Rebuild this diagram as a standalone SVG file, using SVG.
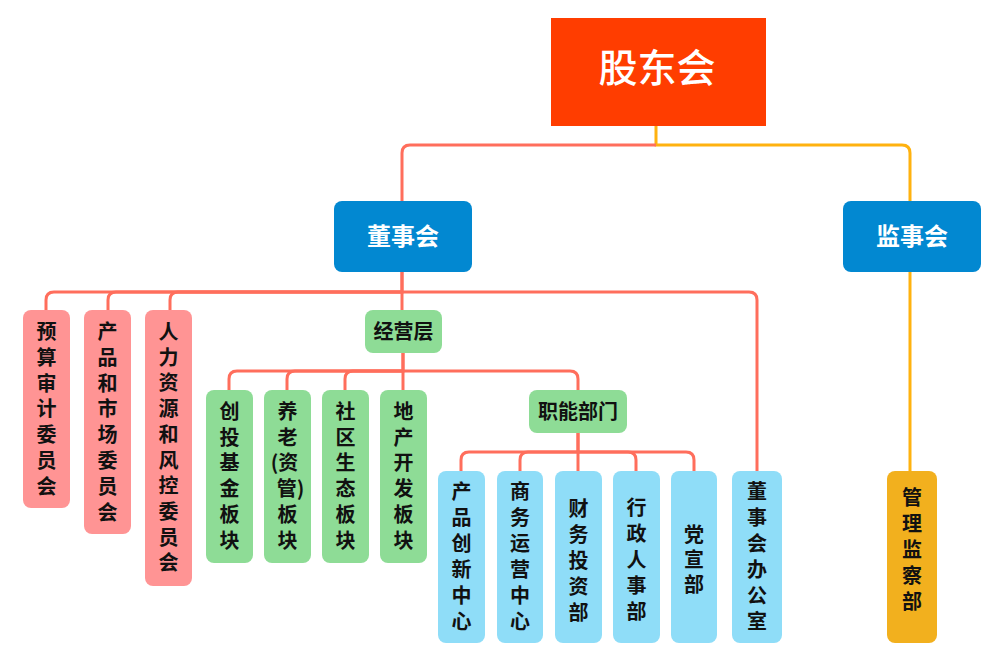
<svg xmlns="http://www.w3.org/2000/svg" width="1004" height="659" viewBox="0 0 1004 659">
<style>
.t{font-family:"Noto Sans CJK SC","Noto Sans",sans-serif;font-weight:bold;font-size:20px;fill:#111;text-anchor:middle}
.w{fill:#fff}
.red{fill:none;stroke:#FF6E5C;stroke-width:3}
.yel{fill:none;stroke:#FFB20F;stroke-width:3}
.pink{fill:#FF9494}
.green{fill:#8EDC96}
.lblue{fill:#8FDDF8}
.dblue{fill:#0288D1}
</style>
<rect width="1004" height="659" fill="#fff"/>
<g id="connectors">
<path class="yel" d="M656,126 V145 H902 Q910,145 910,153 V201"/>
<path class="red" d="M656,145 H410 Q402,145 402,153 V201"/>
<path class="yel" d="M910,272 V471" stroke="#FFA400"/>
<path class="red" d="M402,272 V292 H54 Q46,292 46,300 V310"/>
<path class="red" d="M402,292 H116 Q108,292 108,300 V310"/>
<path class="red" d="M402,292 H178 Q170,292 170,300 V310"/>
<path class="red" d="M402,272 V310"/>
<path class="red" d="M402,292 H749 Q757,292 757,300 V471"/>
<path class="red" d="M403,352 V371 H237 Q229,371 229,379 V390"/>
<path class="red" d="M403,371 H295 Q287,371 287,379 V390"/>
<path class="red" d="M403,371 H353 Q345,371 345,379 V390"/>
<path class="red" d="M403,352 V390"/>
<path class="red" d="M403,371 H570 Q578,371 578,379 V390"/>
<path class="red" d="M578,433 V452 H469 Q461,452 461,460 V471"/>
<path class="red" d="M578,452 H528 Q520,452 520,460 V471"/>
<path class="red" d="M578,433 V471"/>
<path class="red" d="M578,452 H628 Q636,452 636,460 V471"/>
<path class="red" d="M578,452 H686 Q694,452 694,460 V471"/>
</g>
<g id="gudonghui">
<rect x="551" y="18" width="215" height="108" fill="#FF3D00"/>
<text class="t w" x="657" y="82" style="font-size:39px;font-weight:500">股东会</text>
</g>
<g id="dongshihui">
<rect class="dblue" x="334" y="201" width="138" height="71" rx="8"/>
<text class="t w" x="403" y="245" style="font-size:24px">董事会</text>
</g>
<g id="jianshihui">
<rect class="dblue" x="843" y="201" width="138" height="71" rx="8"/>
<text class="t w" x="912" y="245" style="font-size:24px">监事会</text>
</g>
<g id="yusuan">
<rect class="pink" x="23" y="310" width="47" height="198" rx="8"/>
<text class="t" x="46.5" y="339"><tspan x="46.5">预</tspan><tspan x="46.5" dy="25.8">算</tspan><tspan x="46.5" dy="25.8">审</tspan><tspan x="46.5" dy="25.8">计</tspan><tspan x="46.5" dy="25.8">委</tspan><tspan x="46.5" dy="25.8">员</tspan><tspan x="46.5" dy="25.8">会</tspan></text>
</g>
<g id="chanpin">
<rect class="pink" x="84" y="310" width="47" height="224" rx="8"/>
<text class="t" x="107.5" y="339"><tspan x="107.5">产</tspan><tspan x="107.5" dy="25.8">品</tspan><tspan x="107.5" dy="25.8">和</tspan><tspan x="107.5" dy="25.8">市</tspan><tspan x="107.5" dy="25.8">场</tspan><tspan x="107.5" dy="25.8">委</tspan><tspan x="107.5" dy="25.8">员</tspan><tspan x="107.5" dy="25.8">会</tspan></text>
</g>
<g id="renli">
<rect class="pink" x="145" y="310" width="47" height="276" rx="8"/>
<text class="t" x="168.5" y="339"><tspan x="168.5">人</tspan><tspan x="168.5" dy="25.7">力</tspan><tspan x="168.5" dy="25.7">资</tspan><tspan x="168.5" dy="25.7">源</tspan><tspan x="168.5" dy="25.7">和</tspan><tspan x="168.5" dy="25.7">风</tspan><tspan x="168.5" dy="25.7">控</tspan><tspan x="168.5" dy="25.7">委</tspan><tspan x="168.5" dy="25.7">员</tspan><tspan x="168.5" dy="25.7">会</tspan></text>
</g>
<g id="jingying">
<rect class="green" x="365" y="310" width="77" height="43" rx="8"/>
<text class="t" x="403.5" y="339">经营层</text>
</g>
<g id="chuangtou">
<rect class="green" x="206" y="390" width="47" height="173" rx="8"/>
<text class="t" x="229.5" y="419"><tspan x="229.5">创</tspan><tspan x="229.5" dy="25.7">投</tspan><tspan x="229.5" dy="25.7">基</tspan><tspan x="229.5" dy="25.7">金</tspan><tspan x="229.5" dy="25.7">板</tspan><tspan x="229.5" dy="25.7">块</tspan></text>
</g>
<g id="yanglao">
<rect class="green" x="264" y="390" width="47" height="173" rx="8"/>
<text class="t" x="287.5" y="419"><tspan x="287.5">养</tspan><tspan x="287.5" dy="25.7">老</tspan><tspan x="284.5" dy="25.7">(资</tspan><tspan x="290.5" dy="25.7">管)</tspan><tspan x="287.5" dy="25.7">板</tspan><tspan x="287.5" dy="25.7">块</tspan></text>
</g>
<g id="shequ">
<rect class="green" x="322" y="390" width="47" height="173" rx="8"/>
<text class="t" x="345.5" y="419"><tspan x="345.5">社</tspan><tspan x="345.5" dy="25.7">区</tspan><tspan x="345.5" dy="25.7">生</tspan><tspan x="345.5" dy="25.7">态</tspan><tspan x="345.5" dy="25.7">板</tspan><tspan x="345.5" dy="25.7">块</tspan></text>
</g>
<g id="dichan">
<rect class="green" x="380" y="390" width="47" height="173" rx="8"/>
<text class="t" x="403.5" y="419"><tspan x="403.5">地</tspan><tspan x="403.5" dy="25.7">产</tspan><tspan x="403.5" dy="25.7">开</tspan><tspan x="403.5" dy="25.7">发</tspan><tspan x="403.5" dy="25.7">板</tspan><tspan x="403.5" dy="25.7">块</tspan></text>
</g>
<g id="zhineng">
<rect class="green" x="529" y="390" width="98" height="43" rx="8"/>
<text class="t" x="578" y="419">职能部门</text>
</g>
<g id="chuangxin">
<rect class="lblue" x="438" y="471" width="47" height="172" rx="8"/>
<text class="t" x="461.5" y="499"><tspan x="461.5">产</tspan><tspan x="461.5" dy="26">品</tspan><tspan x="461.5" dy="26">创</tspan><tspan x="461.5" dy="26">新</tspan><tspan x="461.5" dy="26">中</tspan><tspan x="461.5" dy="26">心</tspan></text>
</g>
<g id="shangwu">
<rect class="lblue" x="497" y="471" width="46" height="172" rx="8"/>
<text class="t" x="520" y="499"><tspan x="520">商</tspan><tspan x="520" dy="26">务</tspan><tspan x="520" dy="26">运</tspan><tspan x="520" dy="26">营</tspan><tspan x="520" dy="26">中</tspan><tspan x="520" dy="26">心</tspan></text>
</g>
<g id="caiwu">
<rect class="lblue" x="555" y="471" width="47" height="172" rx="8"/>
<text class="t" x="578.5" y="516"><tspan x="578.5">财</tspan><tspan x="578.5" dy="26">务</tspan><tspan x="578.5" dy="26">投</tspan><tspan x="578.5" dy="26">资</tspan><tspan x="578.5" dy="26">部</tspan></text>
</g>
<g id="xingzheng">
<rect class="lblue" x="613" y="471" width="47" height="172" rx="8"/>
<text class="t" x="636.5" y="515"><tspan x="636.5">行</tspan><tspan x="636.5" dy="26">政</tspan><tspan x="636.5" dy="26">人</tspan><tspan x="636.5" dy="26">事</tspan><tspan x="636.5" dy="26">部</tspan></text>
</g>
<g id="dangxuan">
<rect class="lblue" x="671" y="471" width="46" height="172" rx="8"/>
<text class="t" x="694" y="542"><tspan x="694">党</tspan><tspan x="694" dy="25">宣</tspan><tspan x="694" dy="25">部</tspan></text>
</g>
<g id="dongban">
<rect class="lblue" x="732" y="471" width="50" height="172" rx="8"/>
<text class="t" x="757" y="499"><tspan x="757">董</tspan><tspan x="757" dy="26">事</tspan><tspan x="757" dy="26">会</tspan><tspan x="757" dy="26">办</tspan><tspan x="757" dy="26">公</tspan><tspan x="757" dy="26">室</tspan></text>
</g>
<g id="jiancha">
<rect x="887" y="471" width="50" height="172" rx="8" fill="#F2B01E"/>
<text class="t" x="912" y="505"><tspan x="912">管</tspan><tspan x="912" dy="25.9">理</tspan><tspan x="912" dy="25.9">监</tspan><tspan x="912" dy="25.9">察</tspan><tspan x="912" dy="25.9">部</tspan></text>
</g>
</svg>
